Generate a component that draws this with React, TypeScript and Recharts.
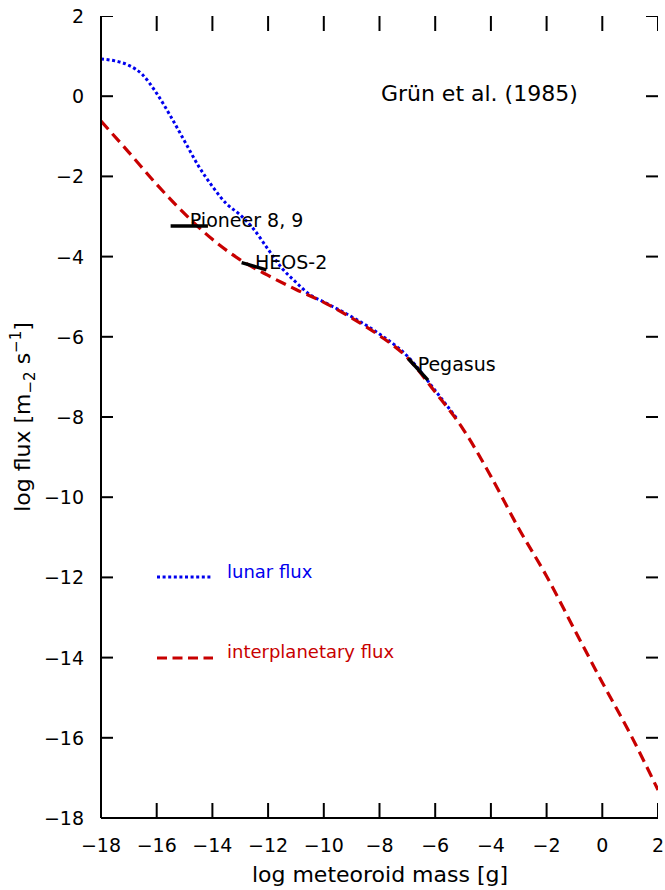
import React from 'react';
import { ComposedChart, Line, XAxis, YAxis, ReferenceLine, Scatter } from 'recharts';

const xTicks = [-18, -16, -14, -12, -10, -8, -6, -4, -2, 0, 2];
const yTicks = [-18, -16, -14, -12, -10, -8, -6, -4, -2, 0, 2];

// interplanetary flux (red dashed)
const interMass = [-18, -17, -16, -15, -14, -13, -12, -11, -10, -9, -8, -7, -6, -5, -4, -3, -2, -1, 0, 1, 2];
const interFlux = [-0.62, -1.4, -2.2, -2.93, -3.57, -4.08, -4.47, -4.82, -5.14, -5.53, -5.97, -6.52, -7.38, -8.3, -9.48, -10.78, -11.97, -13.3, -14.62, -15.9, -17.3];

// lunar flux (blue dotted)
const lunarMass = [-18, -17.5, -17, -16.5, -16, -15.5, -15, -14.5, -14, -13.5, -13, -12.5, -12, -11.5, -11, -10.5, -10, -9, -8, -7, -6, -5.2];
const lunarFlux = [0.93, 0.88, 0.77, 0.53, 0.07, -0.5, -1.12, -1.74, -2.25, -2.68, -2.96, -3.33, -3.82, -4.29, -4.64, -4.95, -5.13, -5.5, -5.93, -6.48, -7.34, -8.06];

// measurements
const instrNames = ['Pioneer 8, 9', 'HEOS-2', 'Pegasus'];
const instrMass1 = [-15.5, -12.95, -6.97];
const instrFlux1 = [-3.24, -4.15, -6.54];
const instrMass2 = [-14.16, -12.06, -6.26];
const instrFlux2 = [-3.24, -4.33, -7.08];
const instrLabelMass = [-14.81, -12.47, -6.63];
const instrLabelFlux = [-3.26, -4.31, -6.85];

const refText = 'Grün et al. (1985)';
const refMass = -7.95;
const refFlux = -0.12;

const legendNames = ['lunar flux', 'interplanetary flux'];

const X_MIN = -18;
const X_MAX = 2;
const Y_MIN = -18;
const Y_MAX = 2;

const BLUE = '#0000ee';
const RED = '#c80000';
const FONT = 'DejaVu Sans';

const interData = interMass.map((m, i) => ({ x: m, y: interFlux[i] }));
const lunarData = lunarMass.map((m, i) => ({ x: m, y: lunarFlux[i] }));
const labelData = instrNames.map((n, i) => ({ x: instrLabelMass[i], y: instrLabelFlux[i], label: n, size: 19 }));
const refData = [{ x: refMass, y: refFlux, label: refText, size: 22 }];

// tick marks (drawn inward) as points on the frame
const bottomTickData = xTicks.map((t) => ({ x: t, y: Y_MIN, dx: 0, dy: -15 }));
const topTickData = xTicks.map((t) => ({ x: t, y: Y_MAX, dx: 0, dy: 15 }));
const leftTickData = yTicks.map((t) => ({ x: X_MIN, y: t, dx: 12, dy: 0 }));
const rightTickData = yTicks.map((t) => ({ x: X_MAX, y: t, dx: -12, dy: 0 }));
const allTickData = [...bottomTickData, ...topTickData, ...leftTickData, ...rightTickData];

const fmt = (v: number) => (v < 0 ? '\u2212' + Math.abs(v) : String(v));

const BottomTick = (p: any) => (
  <text x={p.x} y={p.y + 34} textAnchor="middle" fontFamily={FONT} fontSize={19} fill="#000">
    {fmt(p.payload.value)}
  </text>
);
const LeftTick = (p: any) => (
  <text x={p.x - 17} y={p.y + 7} textAnchor="end" fontFamily={FONT} fontSize={19} fill="#000">
    {fmt(p.payload.value)}
  </text>
);
const NoLabel = () => <g />;

const LabelShape = (p: any) => (
  <text x={p.cx} y={p.cy} fontFamily={FONT} fontSize={p.payload.size} fill="#000">
    {p.payload.label}
  </text>
);

const TickShape = (p: any) => (
  <path
    d={`M${p.cx},${p.cy}L${p.cx + p.payload.dx},${p.cy + p.payload.dy}`}
    stroke="#000"
    strokeWidth={2}
    fill="none"
  />
);

const axisStroke = { stroke: '#000', strokeWidth: 2 };

export default function App() {
  return (
    <div style={{ position: 'absolute', left: 0, top: 0, width: 665, height: 890, background: '#fff' }}>
      <ComposedChart width={665} height={890} margin={{ top: 16, right: 7, bottom: 0, left: 0 }}>
        <XAxis
          xAxisId="b"
          type="number"
          dataKey="x"
          domain={[X_MIN, X_MAX]}
          ticks={xTicks}
          interval={0}
          allowDataOverflow
          height={72}
          tickSize={0}
          tickMargin={0}
          tickLine={false}
          axisLine={axisStroke}
          tick={BottomTick}
        />
        <XAxis
          xAxisId="t"
          orientation="top"
          type="number"
          dataKey="x"
          domain={[X_MIN, X_MAX]}
          ticks={xTicks}
          interval={0}
          allowDataOverflow
          height={0}
          tickSize={0}
          tickMargin={0}
          tickLine={false}
          axisLine={axisStroke}
          tick={NoLabel}
        />
        <YAxis
          yAxisId="l"
          type="number"
          dataKey="y"
          domain={[Y_MIN, Y_MAX]}
          ticks={yTicks}
          interval={0}
          allowDataOverflow
          width={101}
          tickSize={0}
          tickMargin={0}
          tickLine={false}
          axisLine={axisStroke}
          tick={LeftTick}
        />
        <YAxis
          yAxisId="r"
          orientation="right"
          type="number"
          dataKey="y"
          domain={[Y_MIN, Y_MAX]}
          ticks={yTicks}
          interval={0}
          allowDataOverflow
          width={0}
          tickSize={0}
          tickMargin={0}
          tickLine={false}
          axisLine={axisStroke}
          tick={NoLabel}
        />
        <Scatter xAxisId="b" yAxisId="l" data={allTickData} dataKey="y" shape={TickShape} isAnimationActive={false} />
        <Line
          xAxisId="b"
          yAxisId="l"
          data={lunarData}
          dataKey="y"
          type="monotone"
          stroke={BLUE}
          strokeWidth={3}
          strokeDasharray="3 2.6"
          dot={false}
          isAnimationActive={false}
        />
        <Line
          xAxisId="b"
          yAxisId="l"
          data={interData}
          dataKey="y"
          type="monotone"
          stroke={RED}
          strokeWidth={3.2}
          strokeDasharray="11 6"
          dot={false}
          isAnimationActive={false}
        />
        {instrNames.map((n, i) => (
          <ReferenceLine
            key={n}
            xAxisId="b"
            yAxisId="l"
            segment={[
              { x: instrMass1[i], y: instrFlux1[i] },
              { x: instrMass2[i], y: instrFlux2[i] },
            ]}
            stroke="#000"
            strokeWidth={3.5}
            ifOverflow="visible"
          />
        ))}
        <Scatter xAxisId="b" yAxisId="l" data={labelData} dataKey="y" shape={LabelShape} isAnimationActive={false} />
        <Scatter xAxisId="b" yAxisId="l" data={refData} dataKey="y" shape={LabelShape} isAnimationActive={false} />
      </ComposedChart>
      <svg
        width={665}
        height={890}
        style={{ position: 'absolute', left: 0, top: 0, pointerEvents: 'none' }}
      >
        <line x1={157} y1={577} x2={213} y2={577} stroke={BLUE} strokeWidth={3} strokeDasharray="3 2.6" />
        <text x={227} y={578} fontFamily={FONT} fontSize={18} fill={BLUE}>{legendNames[0]}</text>
        <line x1={157} y1={658} x2={213} y2={658} stroke={RED} strokeWidth={3.2} strokeDasharray="10 5.5" />
        <text x={227} y={658} fontFamily={FONT} fontSize={18} fill={RED}>{legendNames[1]}</text>
        <text x={380} y={882} textAnchor="middle" fontFamily={FONT} fontSize={22} fill="#000">
          log meteoroid mass [g]
        </text>
        <text
          x={30}
          y={417}
          textAnchor="middle"
          fontFamily={FONT}
          fontSize={22}
          fill="#000"
          transform="rotate(-90, 30, 417)"
        >
          log flux [m
          <tspan dy={5} fontSize={15}>{'\u22122'}</tspan>
          <tspan dy={-5}> s</tspan>
          <tspan dy={-9} fontSize={15}>{'\u22121'}</tspan>
          <tspan dy={9}>]</tspan>
        </text>
      </svg>
    </div>
  );
}
